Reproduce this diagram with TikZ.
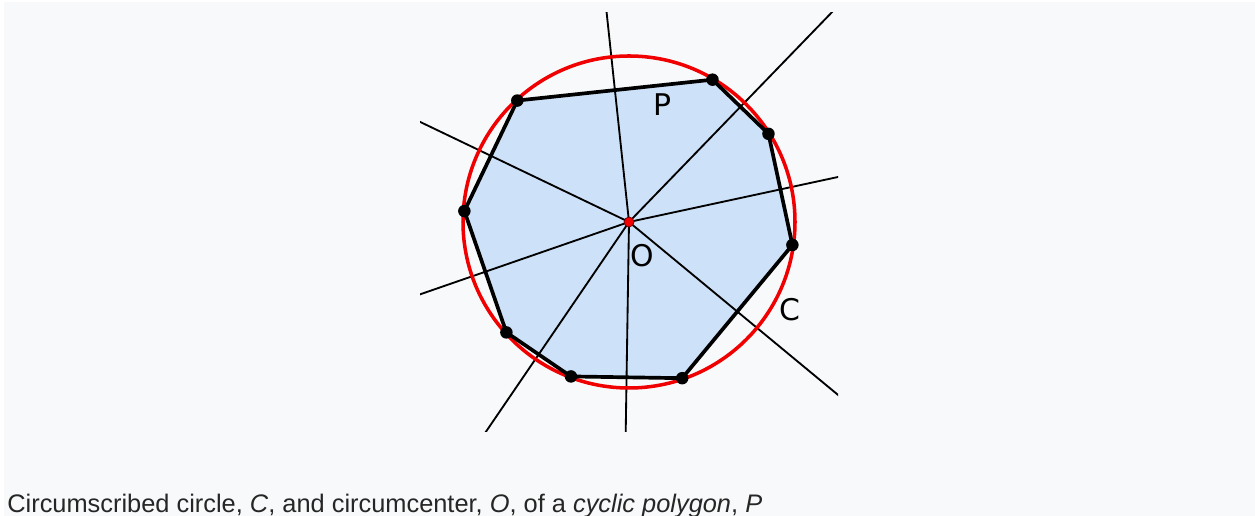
\documentclass[tikz,border=0pt]{standalone}
\usepackage{fontspec}
\setmainfont{Liberation Sans}
\newfontfamily\labelfont{DejaVu Sans}
\usetikzlibrary{calc}
\definecolor{pagebg}{RGB}{248,249,250}
\definecolor{polyfill}{RGB}{205,226,248}
\definecolor{circred}{RGB}{240,0,0}

\begin{document}
\begin{tikzpicture}[
    x=0.02cm, y=0.02cm,
    side/.style={line width=2.1pt, line join=round},
    ray/.style={line width=1.05pt},
    vdot/.style={circle, fill=black, inner sep=0pt, minimum size=0.25cm},
    lbl/.style={font=\labelfont\fontsize{17}{20}\selectfont, inner sep=0pt}
  ]
    % page
    \fill[white] (0,0) rectangle (1255,516);
    \fill[pagebg] (4,0) rectangle (1255,514);
    \useasboundingbox (0,0) rectangle (1255,516);

    \coordinate (O) at (629,294);
    % vertices of P on C
    \foreach \a [count=\i] in {132.6, 59.6, 32.3, -8.0, -71.2, -110.6, -138.0, 176.2}
      \coordinate (v\i) at ($(O)+(\a:165)$);

    \fill[polyfill] (v1) -- (v2) -- (v3) -- (v4) -- (v5) -- (v6) -- (v7) -- (v8) -- cycle;

    % perpendicular bisectors of the sides
    \begin{scope}
      \clip (420,84) rectangle (838,503);
      \foreach \i/\j in {1/2, 2/3, 3/4, 4/5, 5/6, 6/7, 7/8, 8/1}
        \draw[ray] (O) -- ($(O)!8cm!($(v\i)!0.5!(v\j)$)$);
    \end{scope}

    \draw[circred, line width=2pt] (O) circle (166);
    \draw[side] (v1) -- (v2) -- (v3) -- (v4) -- (v5) -- (v6) -- (v7) -- (v8) -- cycle;
    \foreach \i in {1,...,8}
      \node[vdot] (d\i) at (v\i) {};
    \node[circle, fill=circred, draw=black!60!red, line width=0.4pt, inner sep=0pt, minimum size=0.2cm] (ctr) at (O) {};

    \node[lbl] (lp) at (662,411) {P};
    \node[lbl] (lo) at (642,260) {O};
    \node[lbl] (lc) at (790,206) {C};

    \node[anchor=base west, inner sep=0pt, font=\fontsize{14.45}{16}\selectfont, text=black!85] (cap) at (7,3)
      {Circumscribed circle, \textit{C}, and circumcenter, \textit{O}, of a \textit{cyclic polygon}, \textit{P}};
  \end{tikzpicture}
\end{document}
